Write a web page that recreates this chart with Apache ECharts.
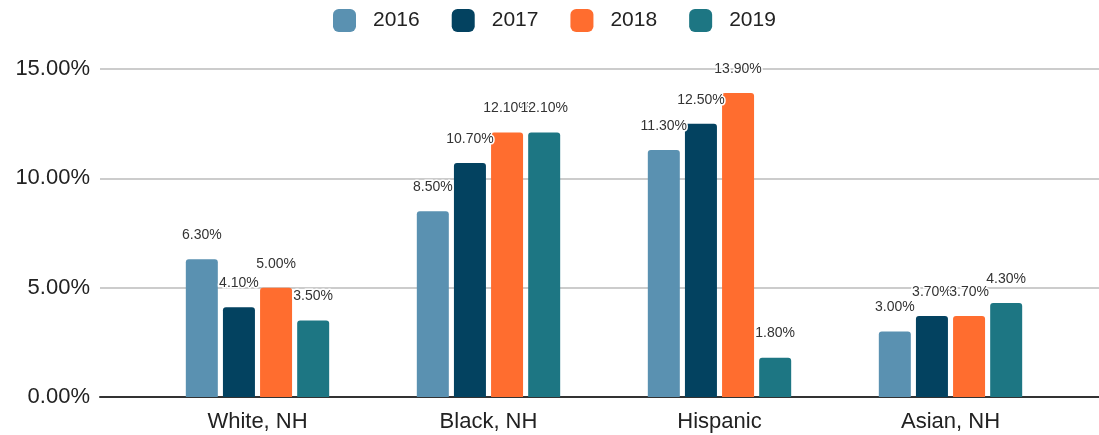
<!DOCTYPE html>
<html>
<head>
<meta charset="utf-8">
<script src="https://cdn.jsdelivr.net/npm/echarts@6/dist/echarts.min.js"></script>
<style>
  html, body { margin: 0; padding: 0; background: #fff; }
  #main { width: 1099px; height: 435px; }
</style>
</head>
<body>
<div id="main"></div>
<script>
// 分组和年份
var groups = ["White, NH", "Black, NH", "Hispanic", "Asian, NH"];
var years = ["2016", "2017", "2018", "2019"];
var colors = ["#5a91b1", "#034260", "#ff6d2f", "#1d7683"];
// 每年各组的百分比
var v2016 = [6.3, 8.5, 11.3, 3.0];
var v2017 = [4.1, 10.7, 12.5, 3.7];
var v2018 = [5.0, 12.1, 13.9, 3.7];
var v2019 = [3.5, 12.1, 1.8, 4.3];
var yTicks = [0, 5, 10, 15];

var values = [v2016, v2017, v2018, v2019];
var myChart = echarts.init(document.getElementById("main"));
var font = "'Liberation Sans', Arial, sans-serif";

var series = years.map(function (y, i) {
  return {
    name: y,
    type: "bar",
    xAxisIndex: 1,
    yAxisIndex: 1,
    data: values[i],
    barWidth: 32,
    barGap: "16%",
    itemStyle: { color: colors[i], borderRadius: [3, 3, 0, 0] },
    label: {
      show: true,
      position: "top",
      distance: 17,
      fontFamily: font,
      fontSize: 14,
      color: "#333",
      textBorderColor: "#fff",
      textBorderWidth: 3,
      formatter: function (p) { return p.value.toFixed(2) + "%"; }
    }
  };
});

var option = {
  animation: false,
  textStyle: { fontFamily: font },
  color: colors,
  legend: {
    data: years,
    top: 4,
    left: 328,
    icon: "roundRect",
    itemWidth: 23,
    itemHeight: 23,
    itemGap: 32,
    textStyle: { fontSize: 21, color: "#222", padding: [0, 0, 0, 12] }
  },
  grid: [
    { left: 100, right: 0, top: 69, bottom: 38 },
    { left: 142, right: 33, top: 69, bottom: 38 }
  ],
  xAxis: [
    {
      gridIndex: 0,
      type: "category",
      data: groups,
      axisLine: { lineStyle: { color: "#333", width: 2 } },
      axisTick: { show: false },
      axisLabel: { show: false }
    },
    {
      gridIndex: 1,
      type: "category",
      data: groups,
      axisLine: { show: false },
      axisTick: { show: false },
      axisLabel: { fontSize: 22, color: "#222", margin: 14 }
    }
  ],
  yAxis: [
    {
      gridIndex: 0,
      type: "value",
      min: yTicks[0],
      max: yTicks[yTicks.length - 1],
      interval: 5,
      axisLabel: {
        fontSize: 22,
        color: "#222",
        margin: 10,
        formatter: function (v) { return v.toFixed(2) + "%"; }
      },
      splitLine: { lineStyle: { color: "#cccccc", width: 2 } }
    },
    {
      gridIndex: 1,
      type: "value",
      min: yTicks[0],
      max: yTicks[yTicks.length - 1],
      interval: 5,
      axisLabel: { show: false },
      splitLine: { show: false }
    }
  ],
  series: series
};

myChart.setOption(option);
</script>
</body>
</html>
